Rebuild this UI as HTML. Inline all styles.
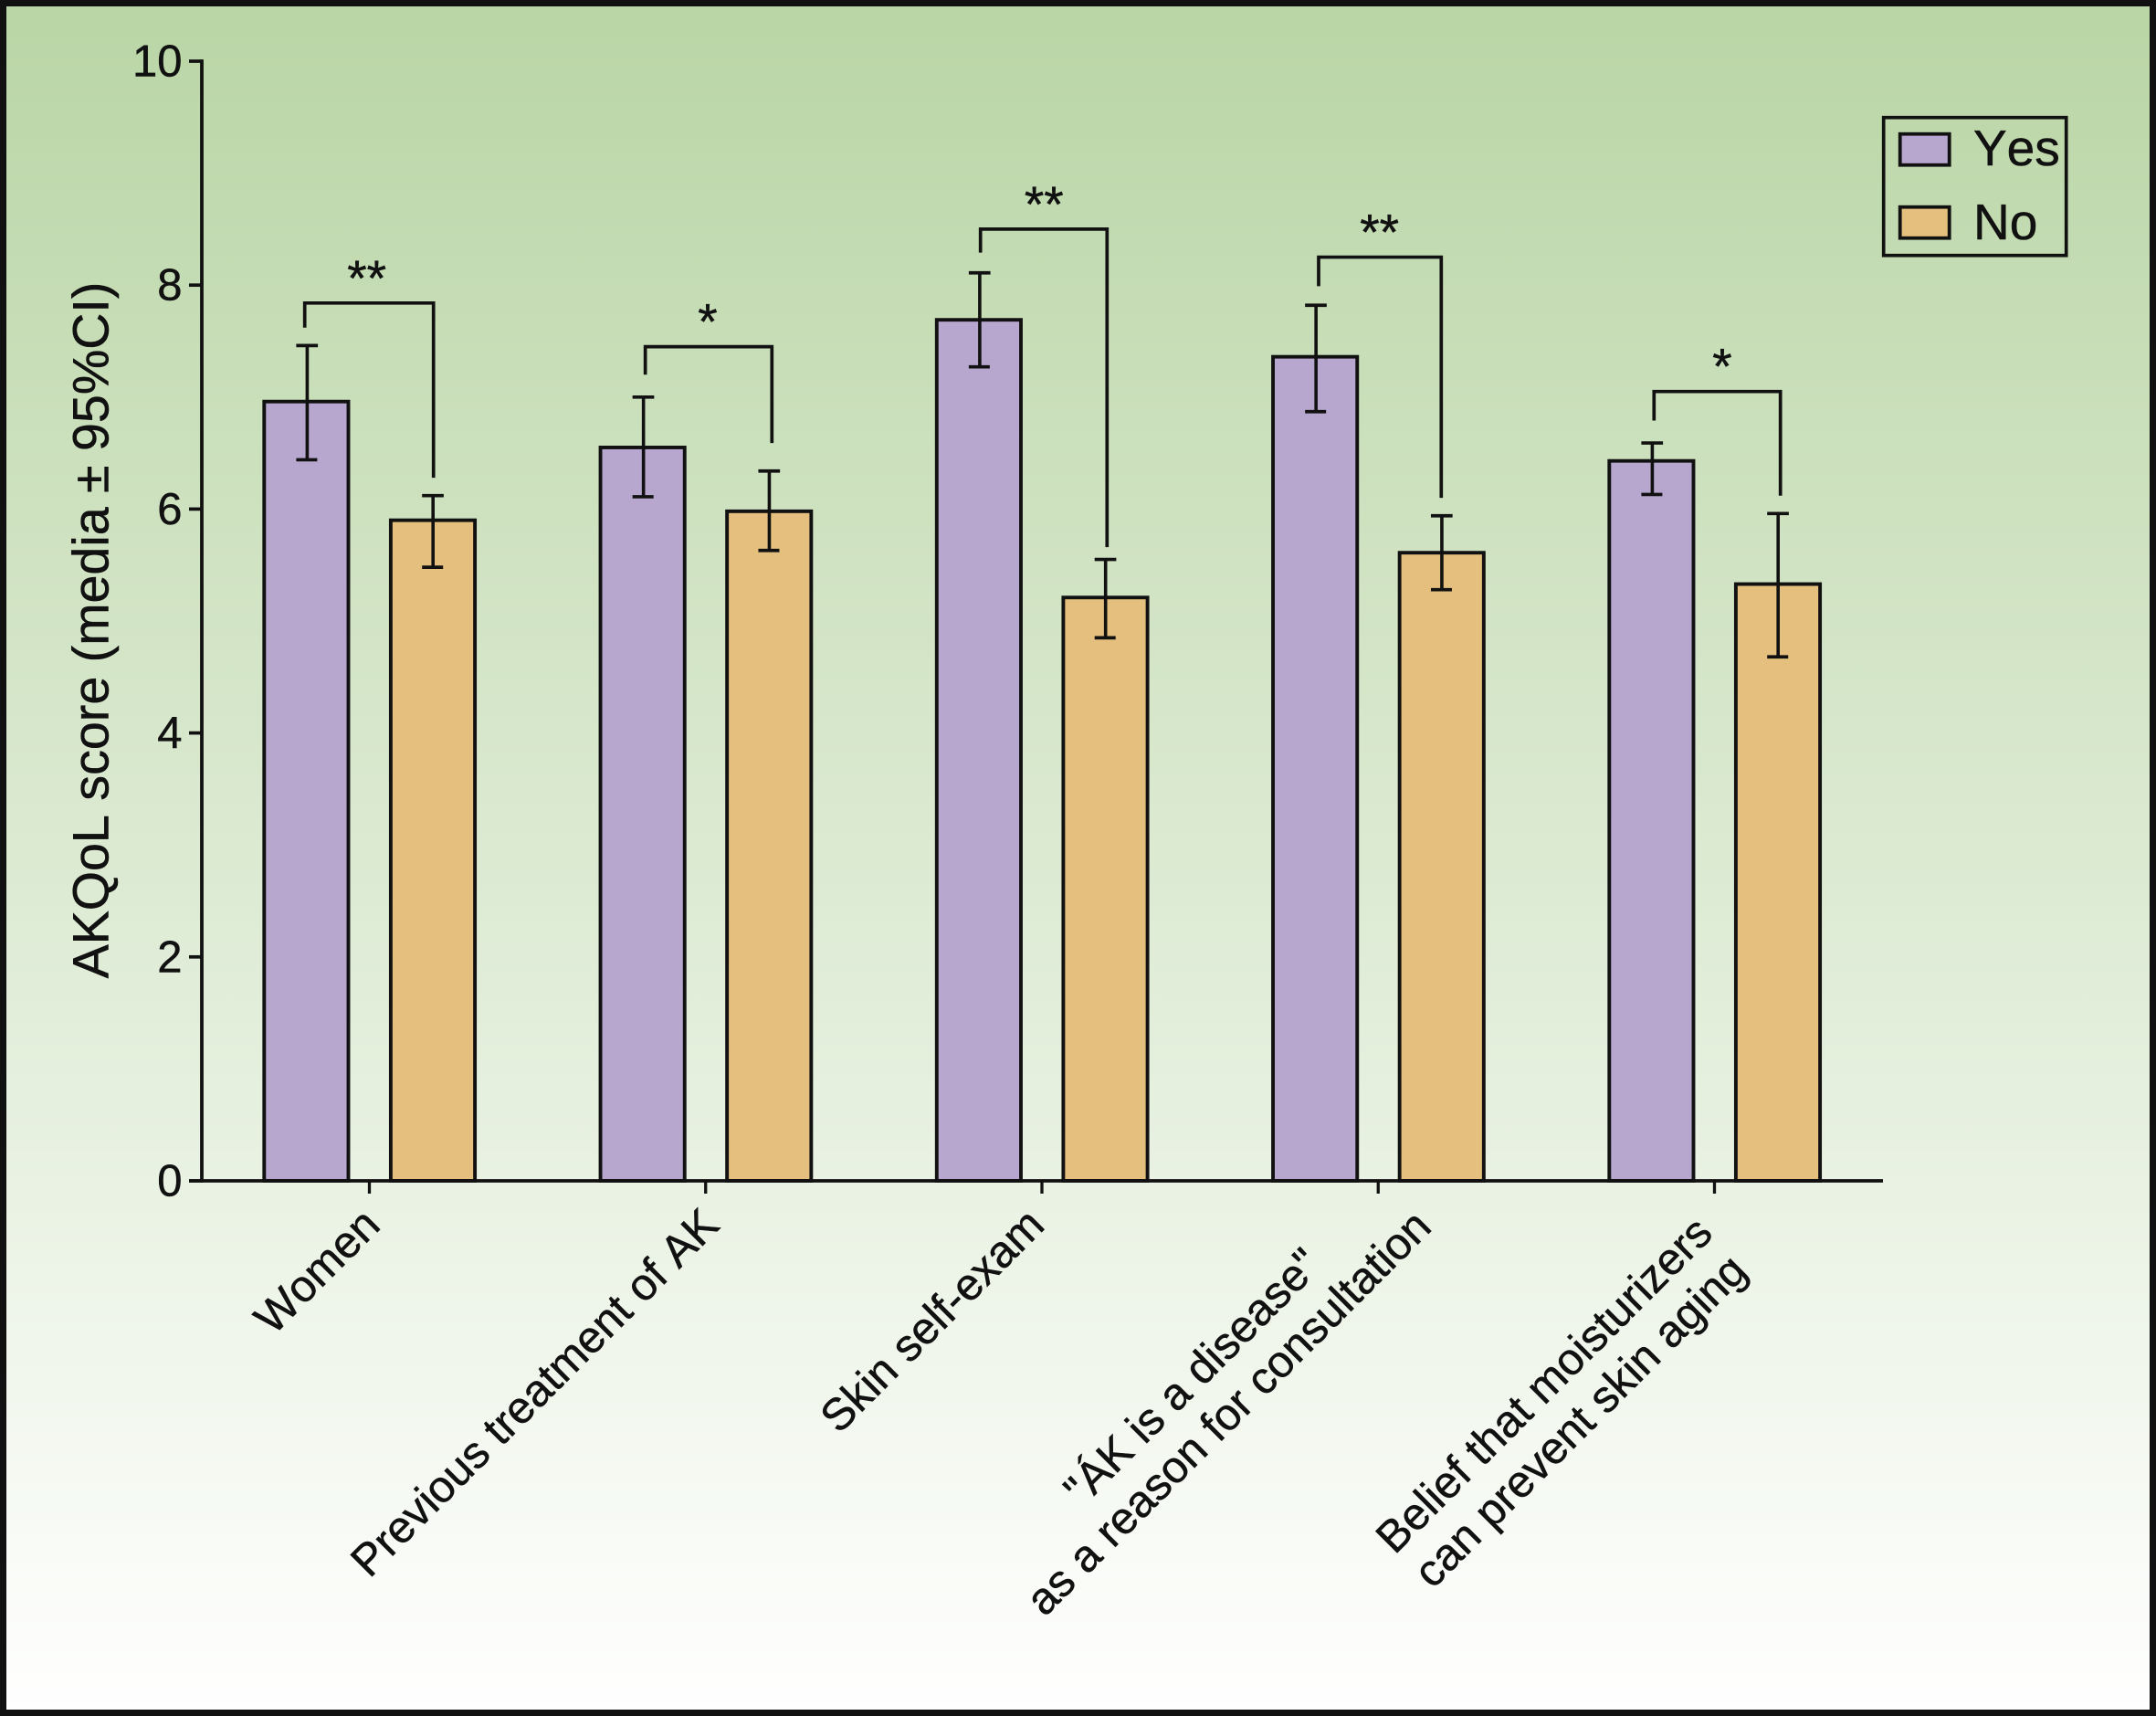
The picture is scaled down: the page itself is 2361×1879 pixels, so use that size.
<!DOCTYPE html>
<html lang="en">
<head>
<meta charset="utf-8">
<title>AKQoL score by patient characteristic</title>
<style>
  html, body { margin: 0; padding: 0; background: #fff; }
  svg { display: block; }
  text { font-family: "Liberation Sans", Arial, sans-serif; fill: #111; stroke: #111; stroke-width: 0.5; font-kerning: none; text-rendering: geometricPrecision; }
</style>
</head>
<body>
<svg id="chart" xmlns="http://www.w3.org/2000/svg" width="2361" height="1879" viewBox="0 0 2361 1879">
  <defs>
    <linearGradient id="bgGrad" x1="0" y1="0" x2="0" y2="1">
      <stop offset="0" stop-color="#b9d5a5"/>
      <stop offset="1" stop-color="#ffffff"/>
    </linearGradient>
  </defs>
  <rect x="0" y="0" width="2361" height="1879" fill="url(#bgGrad)"/>
  <text transform="translate(118.5,690) rotate(-90)" text-anchor="middle" font-size="55.6">AKQoL score (media ± 95%CI)</text>
  <g id="marks"></g>
  <g>
    <rect x="2062.7" y="128.7" width="200" height="151" fill="none" stroke="#111" stroke-width="3.7"/>
    <rect x="2080.7" y="146.7" width="54" height="34" fill="#b7a6ce" stroke="#111" stroke-width="3.8"/>
    <text x="2161" y="181" font-size="55">Yes</text>
    <rect x="2080.7" y="226.7" width="54" height="34" fill="#e5bf7d" stroke="#111" stroke-width="3.8"/>
    <text x="2161" y="262" font-size="55">No</text>
  </g>
  <rect x="3.5" y="3.5" width="2354" height="1872" fill="none" stroke="#111" stroke-width="7"/>
</svg>
<script>
// ---- chart data ----
const categoryLines = [
  ["Women"],
  ["Previous treatment of AK"],
  ["Skin self-exam"],
  ["\"ÁK is a disease\"", "as a reason for consultation"],
  ["Belief that moisturizers", "can prevent skin aging"]
];
const yTickValues = [0, 2, 4, 6, 8, 10];
const yesMeans = [6.96, 6.55, 7.69, 7.36, 6.43];
const yesUpper = [7.46, 7.00, 8.11, 7.82, 6.59];
const yesLower = [6.44, 6.11, 7.27, 6.87, 6.13];
const noMeans = [5.90, 5.98, 5.21, 5.61, 5.33];
const noUpper = [6.12, 6.34, 5.55, 5.94, 5.96];
const noLower = [5.48, 5.63, 4.85, 5.28, 4.68];
const significance = ["**", "*", "**", "**", "*"];
const bracketTop = [7.84, 7.45, 8.50, 8.25, 7.05];
const bracketYesEnd = [7.62, 7.20, 8.29, 7.99, 6.79];
const bracketNoEnd = [6.28, 6.59, 5.66, 6.10, 6.12];

// ---- layout (hand-placed annotation nudges, not data) ----
const layout = {
  bracketNudgeYes: [-2.7, 2, 0.8, 2.85, 1.9],
  bracketNudgeNo: [0.5, 2.85, 1.6, -0.65, 2.5],
  starNudge: [-2.8, 2.2, 2.3, 1.4, 8.5],
  labelEndNudge: [14, 17, 5, 0, 0],
  labelCenterDx: [0, 0, 0, -192, -175],
  labelCenterDy: [0, 0, 0, 226, 235],
  lineGap: 56
};

// ---- axis functions ----
const AXIS_X = 221;
const AXIS_RIGHT = 2062;
const BASE_Y = 1293;
const UNIT_Y = 122.6;
const BAR_W = 92.2;
const GROUP_STEP = 368.25;
function yScale(v) { return BASE_Y - v * UNIT_Y; }
function xTick(i) { return 404.5 + i * GROUP_STEP; }
function xYesLeft(i) { return xTick(i) - 115.2; }
function xNoLeft(i) { return xTick(i) + 23.4; }

const SVG_NS = "http://www.w3.org/2000/svg";
const root = document.getElementById("marks");
const INK = "#111";

function lineEl(x1, y1, x2, y2, w) {
  const el = document.createElementNS(SVG_NS, "line");
  el.setAttribute("x1", x1);
  el.setAttribute("y1", y1);
  el.setAttribute("x2", x2);
  el.setAttribute("y2", y2);
  el.setAttribute("stroke", INK);
  el.setAttribute("stroke-width", w);
  root.appendChild(el);
  return el;
}

function drawBar(left, value, fill) {
  const el = document.createElementNS(SVG_NS, "rect");
  el.setAttribute("x", left);
  el.setAttribute("y", yScale(value));
  el.setAttribute("width", BAR_W);
  el.setAttribute("height", BASE_Y - yScale(value));
  el.setAttribute("fill", fill);
  el.setAttribute("stroke", INK);
  el.setAttribute("stroke-width", 3.9);
  root.appendChild(el);
  return el;
}

function drawErrorBar(x, hi, lo) {
  const g = document.createElementNS(SVG_NS, "g");
  root.appendChild(g);
  const stem = lineEl(x, yScale(hi), x, yScale(lo), 3.6);
  const capHi = lineEl(x - 12, yScale(hi), x + 11.7, yScale(hi), 3.7);
  const capLo = lineEl(x - 12, yScale(lo), x + 11, yScale(lo), 3.7);
  g.appendChild(stem);
  g.appendChild(capHi);
  g.appendChild(capLo);
  return g;
}

// axes
const yAxisLine = lineEl(AXIS_X, yScale(10) - 1.9, AXIS_X, BASE_Y + 1.9, 3.8);



yTickValues.forEach(function (v) {
  const tick = lineEl(207, yScale(v), AXIS_X, yScale(v), 3.7);
  
  
  const label = document.createElementNS(SVG_NS, "text");
  
  
  label.setAttribute("x", 199.5);
  label.setAttribute("y", yScale(v) + 16.5);
  label.setAttribute("text-anchor", "end");
  label.setAttribute("font-size", 49);
  label.textContent = String(v);
  root.appendChild(label);
});

// bars, error bars, brackets, labels
categoryLines.forEach(function (lines, i) {
  const yesBar = drawBar(xYesLeft(i), yesMeans[i], "#b7a6ce");
  
  
  const noBar = drawBar(xNoLeft(i), noMeans[i], "#e5bf7d");
  
  

  const yesX = xYesLeft(i) + BAR_W / 2 + 1;
  const noX = xNoLeft(i) + BAR_W / 2 + 0.2;
  const yesErr = drawErrorBar(yesX, yesUpper[i], yesLower[i]);
  
  
  const noErr = drawErrorBar(noX, noUpper[i], noLower[i]);
  
  

  const bx1 = yesX + layout.bracketNudgeYes[i];
  const bx2 = noX + layout.bracketNudgeNo[i];
  const bracket = document.createElementNS(SVG_NS, "polyline");
  
  
  bracket.setAttribute("points",
    bx1 + "," + yScale(bracketYesEnd[i]) + " " +
    bx1 + "," + yScale(bracketTop[i]) + " " +
    bx2 + "," + yScale(bracketTop[i]) + " " +
    bx2 + "," + yScale(bracketNoEnd[i]));
  bracket.setAttribute("fill", "none");
  bracket.setAttribute("stroke", INK);
  bracket.setAttribute("stroke-width", 3.7);
  root.appendChild(bracket);

  const star = document.createElementNS(SVG_NS, "text");
  
  
  star.setAttribute("x", xTick(i) + layout.starNudge[i]);
  star.setAttribute("y", yScale(bracketTop[i]) - 8.5);
  star.setAttribute("text-anchor", "middle");
  star.setAttribute("font-size", 55);
  star.setAttribute("stroke-width", 1.4);
  star.textContent = significance[i];
  root.appendChild(star);

  const xt = lineEl(xTick(i), BASE_Y, xTick(i), BASE_Y + 14, 3.3);
  
  

  const labelGroup = document.createElementNS(SVG_NS, "g");
  
  
  root.appendChild(labelGroup);
  if (lines.length === 1) {
    const t = document.createElementNS(SVG_NS, "text");
    
    
    t.setAttribute("transform", "translate(" + (xTick(i) + layout.labelEndNudge[i]) + ",1344) rotate(-45)");
    t.setAttribute("text-anchor", "end");
    t.setAttribute("font-size", 49);
    t.textContent = lines[0];
    labelGroup.appendChild(t);
  } else {
    const cx = xTick(i) + layout.labelCenterDx[i];
    const cy = BASE_Y + layout.labelCenterDy[i];
    lines.forEach(function (text, k) {
      const shift = k * layout.lineGap * Math.SQRT1_2;
      const t = document.createElementNS(SVG_NS, "text");
      
      
      t.setAttribute("transform", "translate(" + (cx + shift) + "," + (cy + shift) + ") rotate(-45)");
      t.setAttribute("text-anchor", "middle");
      t.setAttribute("font-size", 49);
      t.textContent = text;
      labelGroup.appendChild(t);
    });
  }
});

const xAxisLine = lineEl(AXIS_X - 14, BASE_Y, AXIS_RIGHT, BASE_Y, 3.8);


</script>
</body>
</html>
